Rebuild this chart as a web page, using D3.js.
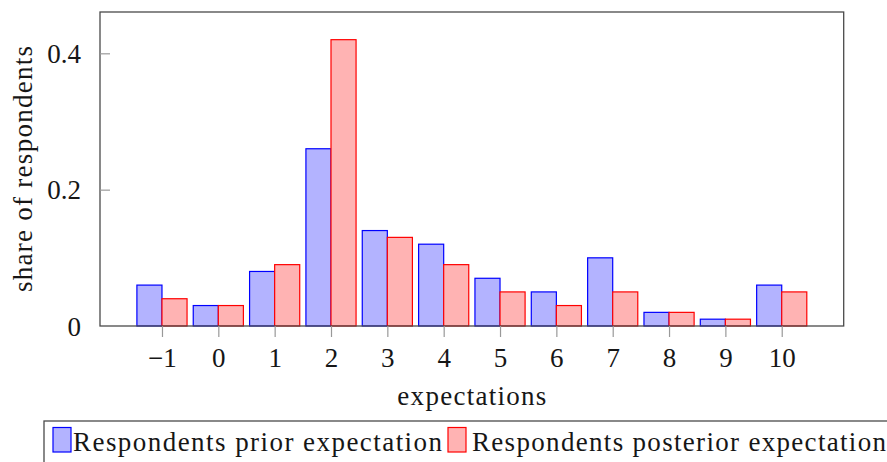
<!DOCTYPE html>
<html>
<head>
<meta charset="utf-8">
<script src="https://cdn.jsdelivr.net/npm/d3@7"></script>
<style>
  svg text { font-family: "Liberation Serif", "Times New Roman", serif !important; }
</style>
</head>
<body style="margin:0;background:#fff">
<div id="wrap"></div>
<script>
const categories = [-1, 0, 1, 2, 3, 4, 5, 6, 7, 8, 9, 10];
const priorValues = [0.06, 0.03, 0.08, 0.26, 0.14, 0.12, 0.07, 0.05, 0.10, 0.02, 0.01, 0.06];
const posteriorValues = [0.04, 0.03, 0.09, 0.42, 0.13, 0.09, 0.05, 0.03, 0.05, 0.02, 0.01, 0.05];
const yTicks = [0, 0.2, 0.4];
const seriesNames = ["Respondents prior expectation", "Respondents posterior expectation"];
const xTitle = "expectations";
const yTitle = "share of respondents";

(function () {
const FONTSTYLE = "font-family: 'Liberation Serif', 'Times New Roman', serif !important; font-size: 27px;";
const TXT = "#161616";
const svg = d3.select("#wrap").append("svg")
  .attr("width", 887).attr("height", 462).style("display", "block");
const pL = 100, pR = 843.7, pT = 12, pB = 326;
const x = d3.scaleLinear().domain([-2.1, 11.1]).range([pL, pR]);
const y = d3.scaleLinear().domain([0, 0.4606]).range([pB, pT]);
const barW = 0.445;

const series = [
  { name: seriesNames[0], values: priorValues, fill: "#b3b3ff", stroke: "#0000ff", offset: -1 },
  { name: seriesNames[1], values: posteriorValues, fill: "#ffb3b3", stroke: "#ff0000", offset: 0 }
];

series.forEach(s => {
  svg.append("g").selectAll("rect")
    .data(categories.map((c, i) => ({ c, v: s.values[i] })))
    .join("rect")
    .attr("x", d => x(d.c + s.offset * barW))
    .attr("width", d => x(d.c + barW) - x(d.c))
    .attr("y", d => y(d.v))
    .attr("height", d => y(0) - y(d.v))
    .attr("fill", s.fill)
    .attr("stroke", s.stroke)
    .attr("stroke-width", 1.2);
});

svg.append("rect")
  .attr("x", pL).attr("y", pT)
  .attr("width", pR - pL).attr("height", pB - pT)
  .attr("fill", "none").attr("stroke", "#4a4a4a").attr("stroke-width", 1.3);

const xAxis = d3.axisBottom(x).tickValues(categories).tickSize(11).tickPadding(11)
  .tickFormat(d => d < 0 ? "\u2212" + Math.abs(d) : String(d));
const gx = svg.append("g").attr("transform", `translate(0,${pB})`).call(xAxis)
  .attr("font-family", "Liberation Serif").attr("font-size", 27);
gx.select(".domain").remove();
gx.selectAll(".tick line").attr("stroke", "#999").attr("stroke-width", 1.2);
gx.selectAll(".tick text")
  .attr("style", FONTSTYLE)
  .attr("fill", TXT).attr("dy", "0.71em");

const yAxis = d3.axisLeft(y).tickValues(yTicks).tickSize(-10).tickPadding(19)
  .tickFormat(d => d === 0 ? "0" : d3.format(".1f")(d));
const gy = svg.append("g").attr("transform", `translate(${pL},0)`).call(yAxis)
  .attr("font-family", "Liberation Serif").attr("font-size", 27);
gy.select(".domain").remove();
gy.selectAll(".tick line").attr("stroke", "#999").attr("stroke-width", 1.2)
  .filter(d => d === 0).remove();
gy.selectAll(".tick text")
  .attr("style", FONTSTYLE)
  .attr("fill", TXT).attr("dy", "0.34em");

svg.append("text")
  .attr("x", (pL + pR) / 2).attr("y", 405)
  .attr("text-anchor", "middle")
  .attr("style", FONTSTYLE).attr("fill", TXT)
  .attr("textLength", 149).attr("lengthAdjust", "spacing")
  .text(xTitle);

svg.append("text")
  .attr("transform", `translate(32,${(pT + pB) / 2}) rotate(-90)`)
  .attr("text-anchor", "middle")
  .attr("style", FONTSTYLE).attr("fill", TXT)
  .attr("textLength", 246).attr("lengthAdjust", "spacing")
  .text(yTitle);

const lg = svg.append("g");
lg.append("rect").attr("x", 44).attr("y", 421).attr("width", 900).attr("height", 60)
  .attr("fill", "#fff").attr("stroke", "#4a4a4a").attr("stroke-width", 1.3);
const legendItems = [
  { s: series[0], px: 53, tx: 73, tw: 369 },
  { s: series[1], px: 448, tx: 472, tw: 414 }
];
legendItems.forEach(it => {
  lg.append("rect").attr("x", it.px).attr("y", 427.5).attr("width", 18).attr("height", 24.5)
    .attr("fill", it.s.fill).attr("stroke", it.s.stroke).attr("stroke-width", 1.2);
  lg.append("text").attr("x", it.tx).attr("y", 451)
    .attr("style", FONTSTYLE).attr("fill", TXT)
    .attr("textLength", it.tw).attr("lengthAdjust", "spacing")
    .text(it.s.name);
});
})();
</script>
</body>
</html>
